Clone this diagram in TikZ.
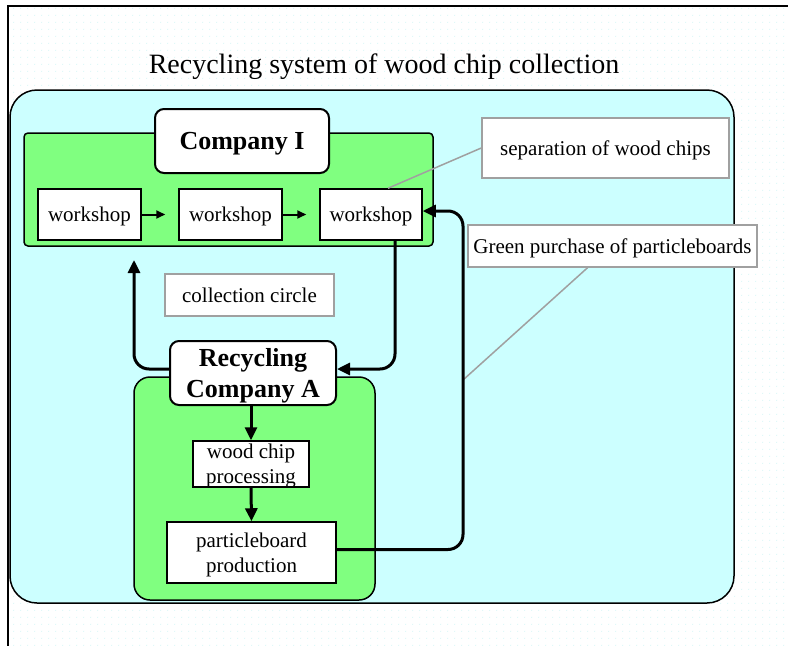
\documentclass[tikz,border=0pt]{standalone}
\usepackage{fontspec}
\setmainfont{Liberation Serif}
\usetikzlibrary{arrows.meta,patterns.meta}
\definecolor{paleCyan}{HTML}{CCFFFF}
\definecolor{lightGreen}{HTML}{80FF80}
\definecolor{leaderGray}{HTML}{A0A0A0}
\definecolor{dotCyan}{HTML}{E0F8F8}

% faint dotted paper texture
\tikzdeclarepattern{
  name=gridDots, type=uncolored,
  bounding box={(0pt,0pt) and (6.5pt,6.5pt)},
  tile size={(6.5pt,6.5pt)},
  code={\fill (0pt,0pt) rectangle (1.3pt,1.3pt);}
}

\begin{document}
\begin{tikzpicture}[x=1pt,y=-1pt,
  txt/.style={font=\fontsize{21}{25}\selectfont, text depth=0pt},
  plainbox/.style={draw=black, line width=1.5pt, fill=white, inner sep=0pt, align=center, txt},
  notebox/.style={draw=leaderGray, line width=1.5pt, fill=white, inner sep=0pt, align=center, txt},
  headbox/.style={draw=black, line width=2pt, fill=white, rounded corners=9pt, inner sep=0pt,
                  align=center, text depth=0pt, font=\fontsize{26}{31}\selectfont\bfseries},
  flow/.style={line width=3pt, rounded corners=15pt, -{Triangle[length=13pt,width=12pt]}},
  smallflow/.style={line width=2pt, -{Triangle[length=9pt,width=8pt]}},
  leader/.style={draw=leaderGray, line width=1.5pt},
  panel/.style={draw=black, line width=1.5pt}
]

\useasboundingbox (0,0) rectangle (788,646);
\fill[white] (0,0) rectangle (788,646);
\fill[pattern=gridDots, pattern color=dotCyan] (9,7) rectangle (788,646);
\draw[line width=2pt] (788,6) -- (8,6) -- (8,646);

% title
\node[font=\fontsize{28}{34}\selectfont] (title) at (384,67) {Recycling system of wood chip collection};

% system area and company panels
\draw[panel, fill=paleCyan, rounded corners=27pt] (10,90) rectangle (734,603);
\draw[panel, fill=lightGreen, rounded corners=4pt] (24,133) rectangle (433,246);
\draw[panel, fill=lightGreen, rounded corners=16pt] (134,377) rectangle (375,600);

% Company I
\node[headbox, minimum width=174pt, minimum height=64pt] (compI) at (242,141) {Company I};
\node[plainbox, minimum width=103pt, minimum height=51pt] (w1) at (89.5,214.5) {workshop};
\node[plainbox, minimum width=103pt, minimum height=51pt] (w2) at (230.5,214.5) {workshop};
\node[plainbox, minimum width=102pt, minimum height=51pt] (w3) at (371,214.5) {workshop};

% notes
\node[notebox, minimum width=247pt, minimum height=60pt] (sep) at (605.5,148) {separation of wood chips};
\node[notebox, minimum width=289pt, minimum height=42pt] (gp) at (612.5,246) {Green purchase of particleboards};
\node[notebox, minimum width=169pt, minimum height=42pt] (cc) at (249.5,295) {collection circle};

% Recycling Company A
\node[headbox, minimum width=166pt, minimum height=64pt] (rca) at (253,373) {Recycling\\Company A};
\node[plainbox, minimum width=116pt, minimum height=46pt] (wcp) at (251,464) {wood chip\\processing};
\node[plainbox, minimum width=169pt, minimum height=61pt] (pp) at (251.5,552.5) {particleboard\\production};

\coordinate (upTip) at (134,260);
\coordinate (riser) at (463,380);

% leader lines of the notes
\draw[leader] (sep.west) -- ([xshift=17pt]w3.north);
\draw[leader] ([xshift=-25pt]gp.south) -- (riser);

% workshop chain
\draw[smallflow, shorten >=13pt] (w1.east) -- (w2.west);
\draw[smallflow, shorten >=13pt] (w2.east) -- (w3.west);

% collection circle
\draw[flow] ([xshift=24pt]w3.south) |- ([yshift=4pt]rca.east);
\draw[flow] ([yshift=4pt]rca.west) -| (upTip);
\draw[flow] ([yshift=3pt]pp.east) -| (riser) |- ([yshift=3.5pt]w3.east);

% processing chain
\draw[flow] (rca.south -| wcp.north) -- (wcp.north);
\draw[flow] (wcp.south) -- (pp.north);

\end{tikzpicture}
\end{document}
